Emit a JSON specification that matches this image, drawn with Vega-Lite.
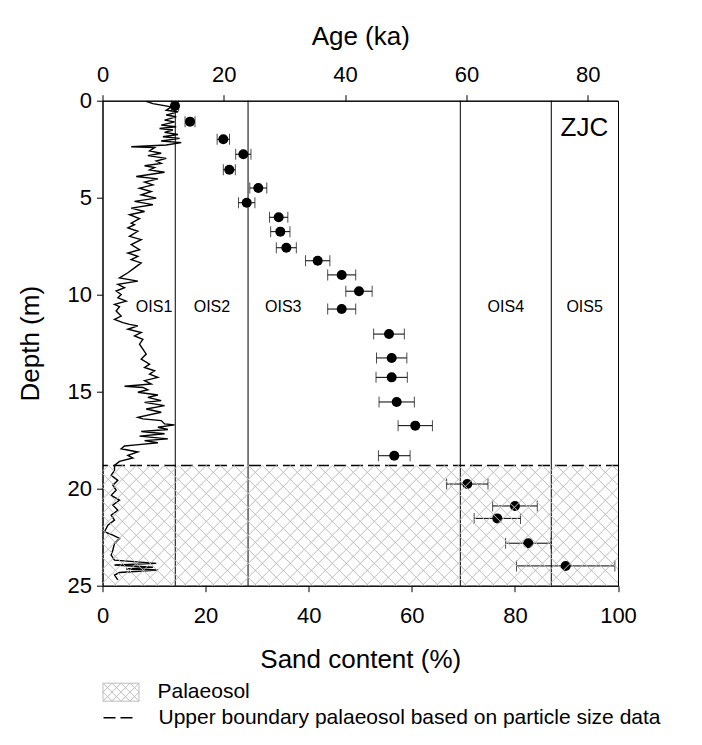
{
  "$schema": "https://vega.github.io/schema/vega-lite/v6.json",
  "autosize": {"type": "none"},
  "padding": {"left": 102.5, "top": 100.7, "right": 84, "bottom": 159.3},
  "width": 515.5,
  "height": 485,
  "config": {
    "font": "Liberation Sans",
    "view": {"stroke": "black", "strokeWidth": 1},
    "axis": {"domainColor": "black", "tickColor": "black", "labelColor": "black", "titleColor": "black", "labelFontSize": 22, "titleFontSize": 26, "titleFontWeight": "normal", "grid": false, "tickSize": 6, "labelPadding": 5, "labelFlush": false, "labelOverlap": false},
    "legend": {"labelFontSize": 21, "labelColor": "black", "labelLimit": 0, "padding": 0}
  },
  "datasets": {
    "sand": [
      {"sand": 8.48, "depth": 0.03}, {"sand": 9.77, "depth": 0.15}, {"sand": 13.33, "depth": 0.32}, {"sand": 12.36, "depth": 0.49}, {"sand": 14.63, "depth": 0.57}, {"sand": 12.36, "depth": 0.74}, {"sand": 14.3, "depth": 0.83}, {"sand": 12.04, "depth": 1.0}, {"sand": 13.98, "depth": 1.09}, {"sand": 11.39, "depth": 1.26}, {"sand": 14.3, "depth": 1.34}, {"sand": 11.07, "depth": 1.43}, {"sand": 13.66, "depth": 1.51}, {"sand": 12.04, "depth": 1.63}, {"sand": 14.63, "depth": 1.74}, {"sand": 11.72, "depth": 1.86}, {"sand": 14.95, "depth": 1.94}, {"sand": 11.39, "depth": 2.08}, {"sand": 15.28, "depth": 2.16}, {"sand": 12.36, "depth": 2.28}, {"sand": 5.57, "depth": 2.37}, {"sand": 10.1, "depth": 2.42}, {"sand": 9.13, "depth": 2.59}, {"sand": 11.39, "depth": 2.71}, {"sand": 8.8, "depth": 2.83}, {"sand": 12.36, "depth": 2.97}, {"sand": 10.42, "depth": 3.11}, {"sand": 11.39, "depth": 3.23}, {"sand": 8.16, "depth": 3.35}, {"sand": 10.1, "depth": 3.45}, {"sand": 9.13, "depth": 3.57}, {"sand": 12.04, "depth": 3.69}, {"sand": 6.54, "depth": 3.91}, {"sand": 10.74, "depth": 4.03}, {"sand": 8.16, "depth": 4.2}, {"sand": 9.77, "depth": 4.34}, {"sand": 7.18, "depth": 4.51}, {"sand": 9.45, "depth": 4.68}, {"sand": 7.51, "depth": 4.85}, {"sand": 10.42, "depth": 5.02}, {"sand": 6.21, "depth": 5.19}, {"sand": 9.77, "depth": 5.36}, {"sand": 5.57, "depth": 5.54}, {"sand": 8.16, "depth": 5.71}, {"sand": 5.24, "depth": 5.88}, {"sand": 7.18, "depth": 6.08}, {"sand": 5.57, "depth": 6.31},
      {"sand": 6.21, "depth": 6.39}, {"sand": 4.92, "depth": 6.56}, {"sand": 6.86, "depth": 6.73}, {"sand": 5.24, "depth": 6.99}, {"sand": 7.51, "depth": 7.16}, {"sand": 5.57, "depth": 7.42}, {"sand": 7.18, "depth": 7.68}, {"sand": 4.92, "depth": 7.85}, {"sand": 6.86, "depth": 8.02}, {"sand": 5.57, "depth": 8.19}, {"sand": 7.51, "depth": 8.36}, {"sand": 6.21, "depth": 8.62}, {"sand": 4.92, "depth": 8.87}, {"sand": 3.3, "depth": 9.13}, {"sand": 6.86, "depth": 9.3}, {"sand": 2.98, "depth": 9.47}, {"sand": 4.27, "depth": 9.64}, {"sand": 2.65, "depth": 9.81}, {"sand": 3.62, "depth": 9.99}, {"sand": 2.98, "depth": 10.16}, {"sand": 4.6, "depth": 10.33}, {"sand": 2.33, "depth": 10.5}, {"sand": 3.3, "depth": 10.62}, {"sand": 2.65, "depth": 10.84}, {"sand": 3.62, "depth": 11.1}, {"sand": 2.33, "depth": 11.27}, {"sand": 3.95, "depth": 11.44}, {"sand": 5.24, "depth": 11.53}, {"sand": 6.86, "depth": 11.61}, {"sand": 4.92, "depth": 11.78}, {"sand": 7.51, "depth": 11.95}, {"sand": 6.21, "depth": 12.12}, {"sand": 7.83, "depth": 12.3}, {"sand": 7.18, "depth": 12.55}, {"sand": 7.83, "depth": 12.81},
      {"sand": 8.48, "depth": 13.06}, {"sand": 7.51, "depth": 13.32}, {"sand": 9.13, "depth": 13.58}, {"sand": 8.16, "depth": 13.75}, {"sand": 10.1, "depth": 13.92}, {"sand": 9.13, "depth": 14.09}, {"sand": 10.74, "depth": 14.26}, {"sand": 8.16, "depth": 14.43}, {"sand": 9.45, "depth": 14.6}, {"sand": 4.27, "depth": 14.72}, {"sand": 7.83, "depth": 14.78}, {"sand": 8.8, "depth": 14.9}, {"sand": 6.86, "depth": 15.03}, {"sand": 10.74, "depth": 15.17}, {"sand": 8.8, "depth": 15.29}, {"sand": 11.39, "depth": 15.46}, {"sand": 8.16, "depth": 15.55}, {"sand": 12.04, "depth": 15.72}, {"sand": 8.48, "depth": 15.89}, {"sand": 11.39, "depth": 16.06}, {"sand": 6.86, "depth": 16.32}, {"sand": 7.83, "depth": 16.4}, {"sand": 11.39, "depth": 16.49}, {"sand": 12.04, "depth": 16.66}, {"sand": 13.98, "depth": 16.71}, {"sand": 10.74, "depth": 16.83}, {"sand": 12.69, "depth": 16.95}, {"sand": 7.51, "depth": 17.05}, {"sand": 12.04, "depth": 17.17}, {"sand": 7.18, "depth": 17.29}, {"sand": 12.69, "depth": 17.43}, {"sand": 8.16, "depth": 17.52}, {"sand": 10.74, "depth": 17.63}, {"sand": 6.54, "depth": 17.74}, {"sand": 4.27, "depth": 17.8}, {"sand": 3.62, "depth": 17.94}, {"sand": 6.86, "depth": 18.11}, {"sand": 4.92, "depth": 18.28}, {"sand": 5.89, "depth": 18.42}, {"sand": 3.3, "depth": 18.59}, {"sand": 2.33, "depth": 18.8},
      {"sand": 2.33, "depth": 19.05}, {"sand": 1.68, "depth": 19.31}, {"sand": 2.98, "depth": 19.57}, {"sand": 2.01, "depth": 19.82}, {"sand": 2.65, "depth": 20.08}, {"sand": 1.68, "depth": 20.34}, {"sand": 3.3, "depth": 20.59}, {"sand": 2.01, "depth": 20.85}, {"sand": 2.98, "depth": 21.11}, {"sand": 1.68, "depth": 21.36}, {"sand": 2.33, "depth": 21.62}, {"sand": 1.04, "depth": 21.88}, {"sand": 0.39, "depth": 22.22}, {"sand": 2.01, "depth": 22.39}, {"sand": 3.3, "depth": 22.56}, {"sand": 2.33, "depth": 22.82}, {"sand": 2.01, "depth": 23.16}, {"sand": 1.68, "depth": 23.42}, {"sand": 2.33, "depth": 23.68}, {"sand": 10.42, "depth": 23.85}, {"sand": 2.33, "depth": 23.93}, {"sand": 9.77, "depth": 24.05}, {"sand": 4.6, "depth": 24.14}, {"sand": 10.74, "depth": 24.19}, {"sand": 3.3, "depth": 24.32}, {"sand": 2.33, "depth": 24.45}, {"sand": 2.98, "depth": 24.7}
    ],
    "osl": [
      {"depth": 0.27, "age": 11.95, "err": 0.6}, {"depth": 1.08, "age": 14.43, "err": 0.82}, {"depth": 1.99, "age": 19.92, "err": 1.02}, {"depth": 2.76, "age": 23.22, "err": 1.26}, {"depth": 3.56, "age": 20.91, "err": 0.99}, {"depth": 4.5, "age": 25.69, "err": 1.4}, {"depth": 5.26, "age": 23.78, "err": 1.35}, {"depth": 6.01, "age": 29.05, "err": 1.51}, {"depth": 6.75, "age": 29.32, "err": 1.59}, {"depth": 7.58, "age": 30.31, "err": 1.65}, {"depth": 8.25, "age": 35.48, "err": 2.01}, {"depth": 8.98, "age": 39.44, "err": 2.31}, {"depth": 9.82, "age": 42.29, "err": 2.17}, {"depth": 10.74, "age": 39.44, "err": 2.31}, {"depth": 12.03, "age": 47.24, "err": 2.53}, {"depth": 13.26, "age": 47.68, "err": 2.5}, {"depth": 14.26, "age": 47.68, "err": 2.58}, {"depth": 15.53, "age": 48.51, "err": 2.91}, {"depth": 16.75, "age": 51.57, "err": 2.83}, {"depth": 18.3, "age": 48.11, "err": 2.61}, {"depth": 19.76, "age": 60.15, "err": 3.41}, {"depth": 20.89, "age": 68.01, "err": 3.68}, {"depth": 21.53, "age": 65.1, "err": 3.82}, {"depth": 22.81, "age": 70.21, "err": 3.74}, {"depth": 23.98, "age": 76.37, "err": 8.11}
    ],
    "ois": [{"age": 12}, {"age": 24}, {"age": 59}, {"age": 74}],
    "oisLabels": [
      {"label": "OIS1", "age": 8.5, "depth": 10.63}, {"label": "OIS2", "age": 18.05, "depth": 10.63}, {"label": "OIS3", "age": 29.8, "depth": 10.63}, {"label": "OIS4", "age": 66.5, "depth": 10.63}, {"label": "OIS5", "age": 79.5, "depth": 10.63}
    ]
  },
  "layer": [
    {
      "layer": [
        {
          "data": {"name": "sand"},
          "mark": {"type": "line", "color": "black", "strokeWidth": 1.4, "clip": true},
          "encoding": {
            "x": {"field": "sand", "type": "quantitative", "scale": {"domain": [0, 100], "nice": false, "zero": false}, "axis": {"orient": "bottom", "title": "Sand content (%)", "values": [0, 20, 40, 60, 80, 100], "labelPadding": 14, "titlePadding": 20}},
            "y": {"field": "depth", "type": "quantitative", "scale": {"domain": [0, 25], "reverse": true, "nice": false}, "axis": {"title": "Depth (m)", "values": [0, 5, 10, 15, 20, 25], "titlePadding": 24}},
            "order": {"field": "depth", "type": "quantitative"}
          }
        }
      ]
    },
    {
      "layer": [
        {
          "data": {"name": "ois"},
          "mark": {"type": "rule", "color": "black", "strokeWidth": 1},
          "encoding": {
            "x": {"field": "age", "type": "quantitative", "title": "Age (ka)", "scale": {"domain": [0, 85], "nice": false, "zero": false}, "axis": {"orient": "top", "title": "Age (ka)", "values": [0, 20, 40, 60, 80], "labelPadding": 8, "titlePadding": 14}}
          }
        },
        {
          "data": {"values": [{"depth": 18.8, "kind": "Upper boundary palaeosol based on particle size data"}]},
          "mark": {"type": "rule", "color": "black", "strokeWidth": 1.5},
          "encoding": {
            "y": {"field": "depth", "type": "quantitative"},
            "strokeDash": {"field": "kind", "type": "nominal", "scale": {"range": [[12, 5]]}, "legend": {"title": null, "orient": "none", "legendX": 0, "legendY": 600, "symbolType": "stroke", "symbolSize": 1024, "symbolStrokeColor": "black", "symbolStrokeWidth": 1.5, "labelOffset": 22}}
          }
        },
        {
          "data": {"name": "osl"},
          "mark": {"type": "errorbar", "color": "black", "thickness": 1, "ticks": {"size": 11, "color": "black", "thickness": 1}},
          "encoding": {
            "x": {"field": "age", "type": "quantitative", "title": "Age (ka)"},
            "xError": {"field": "err"},
            "y": {"field": "depth", "type": "quantitative", "title": "Depth (m)"}
          }
        },
        {
          "data": {"name": "osl"},
          "mark": {"type": "point", "filled": true, "color": "black", "opacity": 1, "size": 100},
          "encoding": {
            "x": {"field": "age", "type": "quantitative", "title": "Age (ka)"},
            "y": {"field": "depth", "type": "quantitative", "title": "Depth (m)"}
          }
        },
        {
          "data": {"values": [{"kind": "Palaeosol"}]},
          "mark": {"type": "point", "filled": false, "opacity": 1, "strokeWidth": 1, "size": 4, "clip": true,
            "shape": "M-378,-60.14l125,125m-111,-125l125,125m-111,-125l125,125m-111,-125l125,125m-111,-125l125,125m-111,-125l125,125m-111,-125l125,125m-111,-125l125,125m-111,-125l125,125m-111,-125l125,125m-111,-125l125,125m-111,-125l125,125m-111,-125l125,125m-111,-125l125,125m-111,-125l125,125m-111,-125l125,125m-111,-125l125,125m-111,-125l125,125m-111,-125l125,125m-111,-125l125,125m-111,-125l125,125m-111,-125l125,125m-111,-125l125,125m-111,-125l125,125m-111,-125l125,125m-111,-125l125,125m-111,-125l125,125m-111,-125l125,125m-111,-125l125,125m-111,-125l125,125m-111,-125l125,125m-111,-125l125,125m-111,-125l125,125m-111,-125l125,125m-111,-125l125,125m-111,-125l125,125m-111,-125l125,125m-111,-125l125,125m-111,-125l125,125m-111,-125l125,125m-111,-125l125,125m-111,-125l125,125m-111,-125l125,125m-111,-125l125,125m-111,-125l125,125m-111,-125l125,125M-252,-60.14l-125,125m139,-125l-125,125m139,-125l-125,125m139,-125l-125,125m139,-125l-125,125m139,-125l-125,125m139,-125l-125,125m139,-125l-125,125m139,-125l-125,125m139,-125l-125,125m139,-125l-125,125m139,-125l-125,125m139,-125l-125,125m139,-125l-125,125m139,-125l-125,125m139,-125l-125,125m139,-125l-125,125m139,-125l-125,125m139,-125l-125,125m139,-125l-125,125m139,-125l-125,125m139,-125l-125,125m139,-125l-125,125m139,-125l-125,125m139,-125l-125,125m139,-125l-125,125m139,-125l-125,125m139,-125l-125,125m139,-125l-125,125m139,-125l-125,125m139,-125l-125,125m139,-125l-125,125m139,-125l-125,125m139,-125l-125,125m139,-125l-125,125m139,-125l-125,125m139,-125l-125,125m139,-125l-125,125m139,-125l-125,125m139,-125l-125,125m139,-125l-125,125m139,-125l-125,125m139,-125l-125,125m139,-125l-125,125"},
          "encoding": {
            "x": {"datum": 42.5, "type": "quantitative", "title": "Age (ka)"},
            "y": {"datum": 21.9, "type": "quantitative", "title": "Depth (m)"},
            "stroke": {"field": "kind", "type": "nominal", "scale": {"range": ["#bdbdbd"]}, "legend": {"title": null, "orient": "none", "legendX": 0, "legendY": 573, "symbolType": "M-1,-0.5H1V0.5H-1Z M0.5,-0.5L1,0 M0,-0.5L1,0.5 M-0.5,-0.5L0.5,0.5 M-1,-0.5L0,0.5 M-1,0L-0.5,0.5 M-1,0L-0.5,-0.5 M-1,0.5L0,-0.5 M-0.5,0.5L0.5,-0.5 M0,0.5L1,-0.5 M0.5,0.5L1,0", "symbolSize": 1296, "symbolStrokeWidth": 1, "symbolFillColor": "transparent", "labelOffset": 18}}
          }
        },
        {
          "data": {"name": "oisLabels"},
          "mark": {"type": "text", "fontSize": 16, "color": "black", "align": "center", "baseline": "middle"},
          "encoding": {
            "x": {"field": "age", "type": "quantitative", "title": "Age (ka)"},
            "y": {"field": "depth", "type": "quantitative", "title": "Depth (m)"},
            "text": {"field": "label"}
          }
        },
        {
          "data": {"values": [{"label": "ZJC", "age": 83.4, "depth": 1.39}]},
          "mark": {"type": "text", "fontSize": 26, "color": "black", "align": "right", "baseline": "middle"},
          "encoding": {
            "x": {"field": "age", "type": "quantitative", "title": "Age (ka)"},
            "y": {"field": "depth", "type": "quantitative", "title": "Depth (m)"},
            "text": {"field": "label"}
          }
        }
      ]
    }
  ],
  "resolve": {"scale": {"x": "independent"}, "axis": {"x": "independent"}}
}
